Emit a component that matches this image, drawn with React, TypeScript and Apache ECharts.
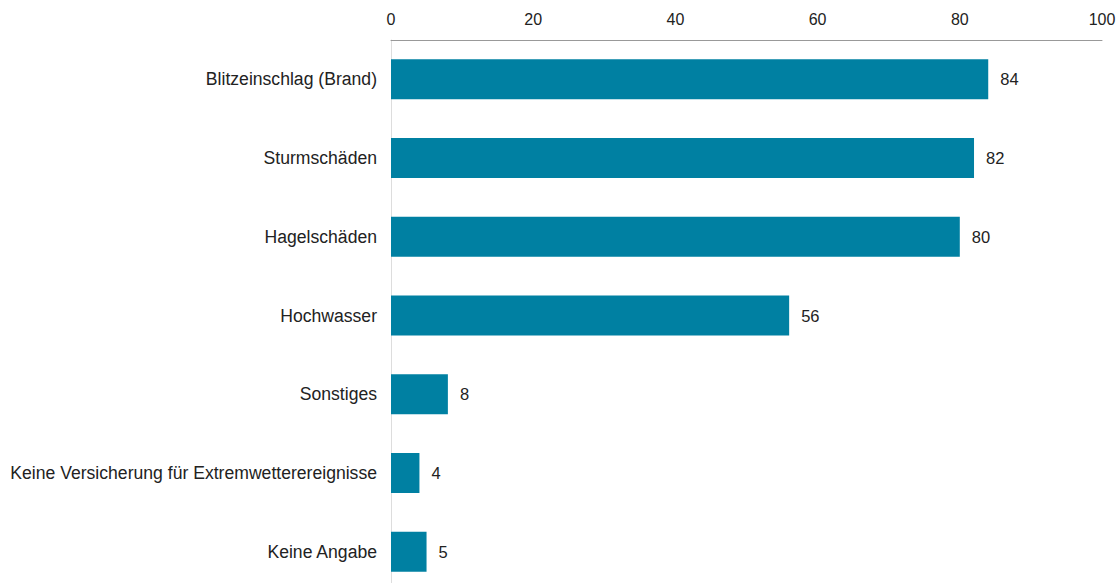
import React, { useEffect, useRef } from "react";
import * as echarts from "echarts";

const categories = [
  "Blitzeinschlag (Brand)",
  "Sturmschäden",
  "Hagelschäden",
  "Hochwasser",
  "Sonstiges",
  "Keine Versicherung für Extremwetterereignisse",
  "Keine Angabe",
];
const values = [84, 82, 80, 56, 8, 4, 5];

const FONT = "'Liberation Sans', Arial, sans-serif";

export default function App() {
  const ref = useRef<HTMLDivElement>(null);
  useEffect(() => {
    if (!ref.current) return;
    const chart = echarts.init(ref.current, undefined, { renderer: "svg" });
    chart.setOption({
      animation: false,
      grid: {
        left: 391,
        right: 18,
        top: 40,
        height: 551,
        containLabel: false,
        outerBoundsMode: "none",
      },
      xAxis: {
        type: "value",
        position: "top",
        min: 0,
        max: 100,
        interval: 20,
        axisLine: { show: true, lineStyle: { color: "#999", width: 1 } },
        axisTick: { show: false },
        splitLine: { show: false },
        axisLabel: {
          margin: 13,
          fontSize: 16,
          color: "#222",
          fontFamily: FONT,
        },
      },
      yAxis: {
        type: "category",
        data: categories,
        inverse: true,
        axisLine: { show: true, lineStyle: { color: "#ddd", width: 1 } },
        axisTick: { show: false },
        axisLabel: {
          margin: 14,
          fontSize: 17.6,
          color: "#222",
          fontFamily: FONT,
        },
      },
      series: [
        {
          type: "bar",
          data: values,
          barWidth: 40,
          itemStyle: { color: "#0080A2" },
          label: {
            show: true,
            position: "right",
            distance: 12,
            fontSize: 16.5,
            color: "#222",
            fontFamily: FONT,
          },
        },
      ],
    });
    return () => chart.dispose();
  }, []);
  return (
    <div
      ref={ref}
      style={{ position: "absolute", left: 0, top: 0, width: 1120, height: 583 }}
    />
  );
}
